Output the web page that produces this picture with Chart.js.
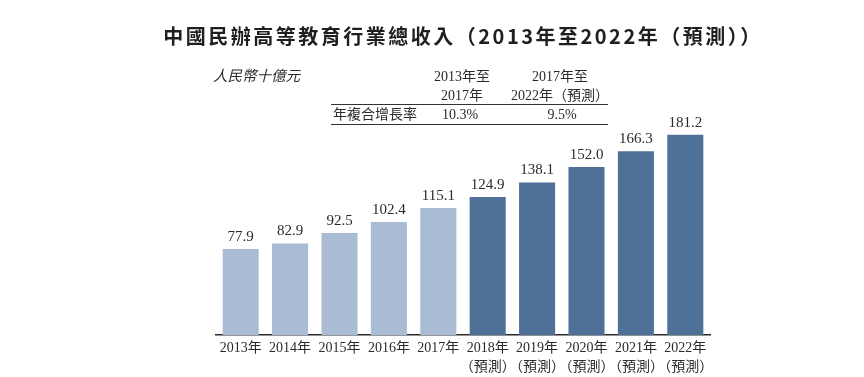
<!DOCTYPE html>
<html>
<head>
<meta charset="utf-8">
<script src="https://cdn.jsdelivr.net/npm/chart.js@4"></script>
<style>
  body { margin: 0; background: #fff; }
  #box { width: 864px; height: 377px; }
</style>
</head>
<body>
<div id="box"><canvas id="myChart" width="864" height="377"></canvas></div>
<script>
// data
var years = ['2013年', '2014年', '2015年', '2016年', '2017年', '2018年', '2019年', '2020年', '2021年', '2022年'];
var forecast = [false, false, false, false, false, true, true, true, true, true];
var revenue = [77.9, 82.9, 92.5, 102.4, 115.1, 124.9, 138.1, 152.0, 166.3, 181.2];
var cagrHead = [['2013年至', '2017年'], ['2017年至', '2022年（預測）']];
var cagrValues = ['10.3%', '9.5%'];
var cagrLabel = '年複合增長率';
var unitLabel = '人民幣十億元';
var titleText = '中國民辦高等教育行業總收入（2013年至2022年（預測））';

var serif = '"Liberation Serif", "Noto Sans CJK TC", serif';
var labels = years.map(function (y, i) { return forecast[i] ? [y, '（預測）'] : y; });
var colors = forecast.map(function (f) { return f ? '#4f7198' : '#a9bcd4'; });

// title is wider than the plot, so draw it here instead of the title plugin
var wideTitle = {
  id: 'wideTitle',
  afterDraw: function (chart) {
    var c = chart.ctx;
    c.save();
    c.letterSpacing = '2.5px';
    c.font = 'bold 20px "Noto Sans CJK TC", sans-serif';
    c.fillStyle = '#1f1f1f';
    c.textAlign = 'center';
    c.textBaseline = 'middle';
    c.fillText(titleText, 463, 36);
    c.restore();
  }
};

// values above bars
var valueLabels = {
  id: 'valueLabels',
  afterDatasetsDraw: function (chart) {
    var c = chart.ctx;
    var meta = chart.getDatasetMeta(0);
    c.save();
    c.font = '15px ' + serif;
    c.fillStyle = '#2b2b2b';
    c.textAlign = 'center';
    c.textBaseline = 'middle';
    meta.data.forEach(function (bar, i) {
      c.fillText(revenue[i].toFixed(1), bar.x, bar.y - 12);
    });
    c.restore();
  }
};

// unit and the small CAGR table
var cagrTable = {
  id: 'cagrTable',
  afterDraw: function (chart) {
    var c = chart.ctx;
    c.save();
    c.fillStyle = '#2b2b2b';
    c.textBaseline = 'middle';
    c.font = 'italic 14.5px "Noto Sans CJK TC", sans-serif';
    c.textAlign = 'left';
    c.fillText(unitLabel, 213, 75);

    c.font = '14px ' + serif;
    c.textAlign = 'center';
    var cols = [462, 560];
    cagrHead.forEach(function (h, i) {
      c.fillText(h[0], cols[i], 77);
      c.fillText(h[1], cols[i], 96);
    });
    c.textAlign = 'left';
    c.fillText(cagrLabel, 333, 115);
    c.textAlign = 'center';
    c.fillText(cagrValues[0], 460, 115);
    c.fillText(cagrValues[1], 562, 115);

    c.strokeStyle = '#333';
    c.lineWidth = 1;
    c.beginPath();
    c.moveTo(331, 104.5); c.lineTo(608, 104.5);
    c.moveTo(331, 124.5); c.lineTo(608, 124.5);
    c.stroke();
    c.restore();
  }
};

var ctx = document.getElementById('myChart');
var myChart = new Chart(ctx, {
    type: 'bar',
    data: {
        labels: labels,
        datasets: [{
            label: '總收入',
            data: revenue,
            backgroundColor: colors,
            borderWidth: 0,
            barPercentage: 0.73,
            categoryPercentage: 1
        }]
    },
    options: {
        responsive: false,
        animation: false,
        layout: { padding: { left: 216, right: 154, top: 114, bottom: -4 } },
        plugins: {
            legend: { display: false },
            tooltip: { enabled: false },
            title: { display: false }
        },
        scales: {
            x: {
                grid: { display: false, drawTicks: false },
                border: { display: true, color: '#2b2b2b', width: 1.5 },
                ticks: {
                    color: '#2b2b2b',
                    padding: 4,
                    maxRotation: 0,
                    autoSkip: false,
                    font: { family: serif, size: 14, lineHeight: 1.35 }
                }
            },
            y: {
                display: false,
                min: 0,
                max: 200
            }
        }
    },
    plugins: [wideTitle, valueLabels, cagrTable]
});
</script>
</body>
</html>
